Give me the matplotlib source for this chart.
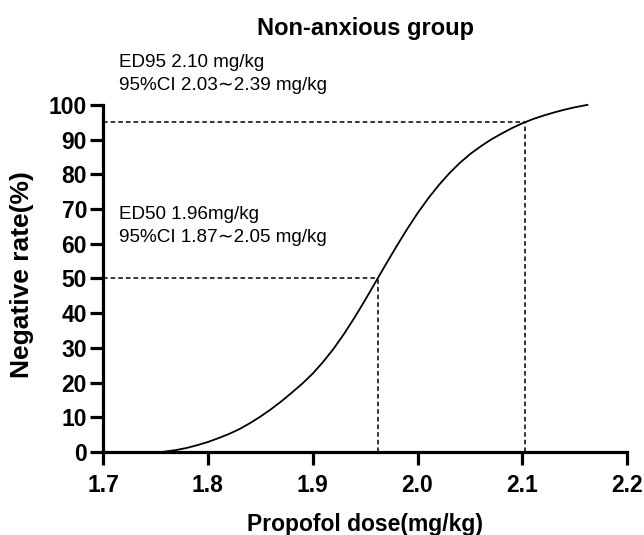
import matplotlib
matplotlib.use("Agg")
import matplotlib.pyplot as plt

plt.rcParams['font.family'] = ['Liberation Sans', 'DejaVu Sans']

# dose-response curve
dose = [1.758, 1.77, 1.78, 1.79, 1.80, 1.81, 1.82, 1.83, 1.84, 1.85, 1.86,
        1.87, 1.88, 1.89, 1.90, 1.91, 1.92, 1.93, 1.94, 1.95, 1.96,
        1.97, 1.98, 1.99, 2.00, 2.01, 2.02, 2.03, 2.04, 2.05, 2.06,
        2.07, 2.08, 2.09, 2.10, 2.11, 2.12, 2.13, 2.14, 2.15, 2.162]
rate = [0.1, 0.6, 1.2, 2.0, 2.9, 4.0, 5.2, 6.6, 8.3, 10.2, 12.3,
        14.6, 17.1, 19.7, 22.6, 26.0, 29.8, 34.1, 38.8, 43.8, 49.0,
        54.2, 59.3, 64.2, 68.8, 73.0, 76.8, 80.2, 83.2, 85.8, 88.0,
        90.0, 91.7, 93.3, 94.7, 95.9, 96.9, 97.8, 98.6, 99.3, 100.0]

ed50 = 1.962
ed95 = 2.102
xticks = [1.7, 1.8, 1.9, 2.0, 2.1, 2.2]
xlabels = ['1.7', '1.8', '1.9', '2.0', '2.1', '2.2']
yticks = [0, 10, 20, 30, 40, 50, 60, 70, 80, 90, 100]

fig = plt.figure(figsize=(6.44, 5.35), dpi=100)
ax = fig.add_axes([0.160, 0.155, 0.814, 0.649])

ax.plot(dose, rate, color='black', lw=1.3, clip_on=False)

# reference lines for ED50 and ED95
dash = (0, (3, 2))
ax.plot([1.7, ed50], [50, 50], color='black', lw=1.1, ls=dash)
ax.plot([ed50, ed50], [0, 50], color='black', lw=1.1, ls=dash)
ax.plot([1.7, ed95], [95, 95], color='black', lw=1.1, ls=dash)
ax.plot([ed95, ed95], [0, 95], color='black', lw=1.1, ls=dash)

ax.set_xlim(1.7, 2.2)
ax.set_ylim(0, 100)
ax.set_xticks(xticks)
ax.set_xticklabels(xlabels)
ax.set_yticks(yticks)

for s in ['top', 'right']:
    ax.spines[s].set_visible(False)
for s in ['left', 'bottom']:
    ax.spines[s].set_linewidth(2.3)

ax.tick_params(axis='both', direction='out', length=9.5, width=2.3,
               labelsize=16.5, pad=2)
for lab in ax.get_xticklabels() + ax.get_yticklabels():
    lab.set_fontweight('bold')
ax.tick_params(axis='x', pad=6)

ax.set_xlabel('Propofol dose(mg/kg)', fontsize=16.5, fontweight='bold', labelpad=11.5)
ax.set_ylabel('Negative rate(%)', fontsize=19, fontweight='bold')
ax.yaxis.set_label_coords(-0.131, 0.51)
fig.text(0.567, 1 - 29 / 535, 'Non-anxious group', fontsize=17,
         fontweight='bold', ha='center', va='center')

ax.text(1.715, 108.8, 'ED95 2.10 mg/kg\n95%CI 2.03\u223c2.39 mg/kg', fontsize=13.6,
        va='center', ha='left', linespacing=1.45, clip_on=False)
ax.text(1.715, 65.0, 'ED50 1.96mg/kg\n95%CI 1.87\u223c2.05 mg/kg', fontsize=13.6,
        va='center', ha='left', linespacing=1.45)

fig.savefig('out.png', dpi=100)
